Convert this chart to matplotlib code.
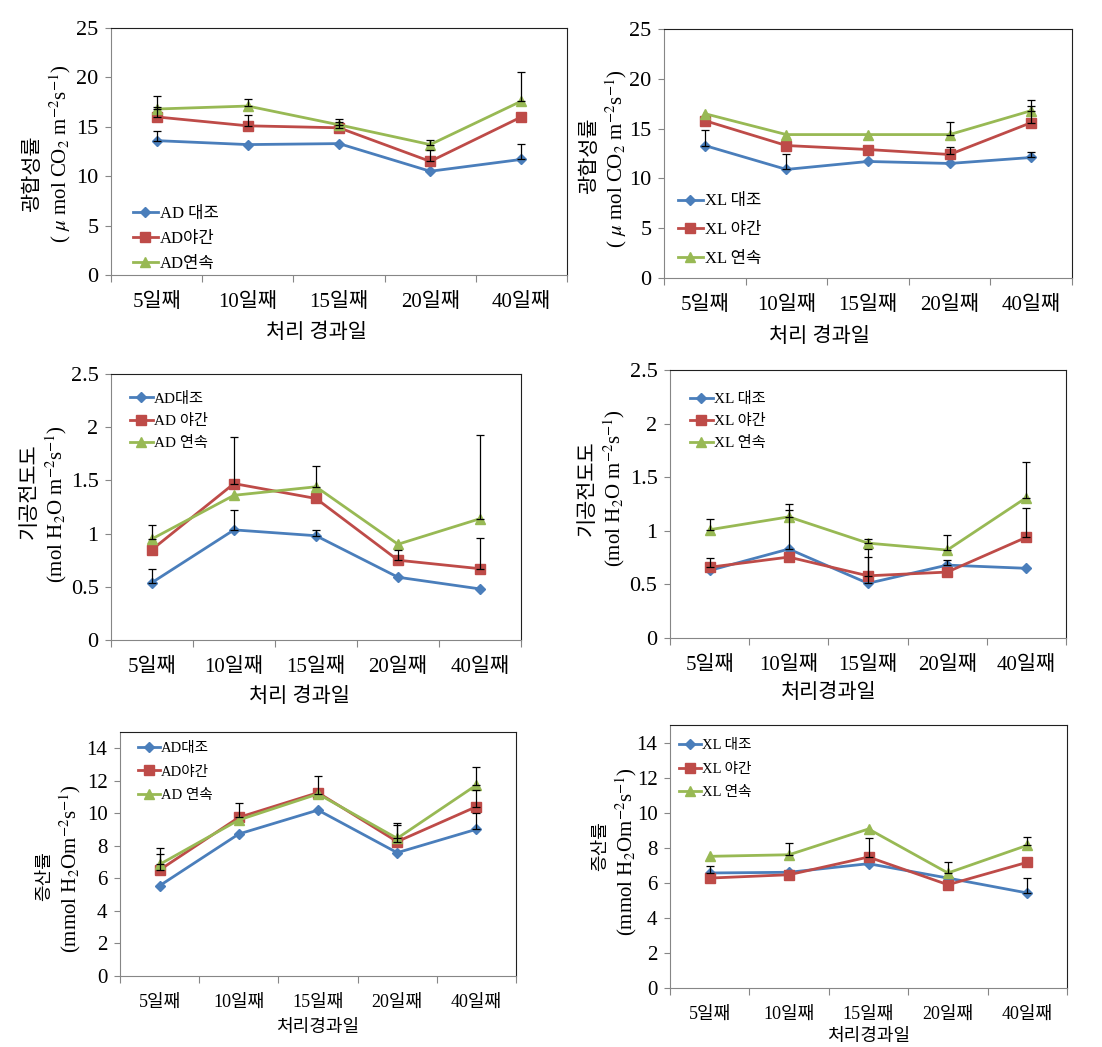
import numpy as np
import matplotlib
matplotlib.use("Agg")
import matplotlib.pyplot as plt

plt.rcParams['font.family'] = ['Liberation Serif', 'Noto Sans CJK KR']
plt.rcParams['mathtext.fontset'] = 'stix'

days = ['5일째', '10일째', '15일째', '20일째', '40일째']

# 광합성률 AD
ad_pn_ctrl = [13.6, 13.2, 13.3, 10.5, 11.7]
ad_pn_night = [16.0, 15.1, 14.9, 11.5, 16.0]
ad_pn_cont = [16.8, 17.1, 15.2, 13.2, 17.6]
ad_pn_ctrl_err = [1.0, 0, 0, 0, 1.6]
ad_pn_night_err = [1.0, 1.1, 0.6, 1.2, 0]
ad_pn_cont_err = [1.3, 0.7, 0.6, 0.5, 2.9]

# 광합성률 XL
xl_pn_ctrl = [13.3, 10.9, 11.7, 11.5, 12.1]
xl_pn_night = [15.8, 13.3, 12.9, 12.4, 15.6]
xl_pn_cont = [16.5, 14.4, 14.4, 14.4, 16.8]
xl_pn_ctrl_err = [1.6, 1.5, 0, 0, 0.6]
xl_pn_night_err = [0, 0, 0, 0.8, 1.7]
xl_pn_cont_err = [0, 0, 0, 1.3, 1.1]

# 기공전도도 AD
ad_gs_ctrl = [0.54, 1.035, 0.98, 0.59, 0.48]
ad_gs_night = [0.85, 1.47, 1.33, 0.75, 0.67]
ad_gs_cont = [0.95, 1.36, 1.44, 0.90, 1.14]
ad_gs_ctrl_err = [0.125, 0.185, 0.05, 0, 0]
ad_gs_night_err = [0, 0.44, 0, 0.10, 0.29]
ad_gs_cont_err = [0.13, 0, 0.20, 0, 0.79]

# 기공전도도 XL
xl_gs_ctrl = [0.63, 0.83, 0.51, 0.68, 0.65]
xl_gs_night = [0.66, 0.755, 0.58, 0.615, 0.94]
xl_gs_cont = [1.01, 1.13, 0.885, 0.82, 1.31]
xl_gs_ctrl_err = [0, 0.36, 0.25, 0.05, 0]
xl_gs_night_err = [0.085, 0, 0.25, 0, 0.27]
xl_gs_cont_err = [0.10, 0.12, 0.04, 0.14, 0.33]

# 증산률 AD
ad_e_ctrl = [5.55, 8.73, 10.2, 7.58, 9.02]
ad_e_night = [6.52, 9.75, 11.27, 8.26, 10.41]
ad_e_cont = [6.86, 9.59, 11.19, 8.46, 11.74]
ad_e_ctrl_err = [0, 0, 0, 0, 1.0]
ad_e_night_err = [1.0, 0.9, 0, 1.04, 1.0]
ad_e_cont_err = [1.0, 0, 1.1, 0.97, 1.13]

# 증산률 XL
xl_e_ctrl = [6.56, 6.6, 7.09, 6.27, 5.42]
xl_e_night = [6.27, 6.46, 7.47, 5.89, 7.17]
xl_e_cont = [7.51, 7.6, 9.07, 6.56, 8.14]
xl_e_ctrl_err = [0.38, 0, 0, 0, 0.85]
xl_e_night_err = [0, 0, 1.08, 0, 0]
xl_e_cont_err = [0, 0.67, 0, 0.61, 0.47]

blue = '#4A7EBB'
red = '#BE4B48'
green = '#98B954'


def draw(rect, series, labels, errs, ylim, yticks, ytl, ylab_kr, ylab_unit,
         ylab_pos, xlab, xlab_pos, leg_pos, leg_space, fs_tick, fs_x, fs_leg):
    ax = fig.add_axes([rect[0] / W, 1 - rect[3] / H, (rect[1] - rect[0]) / W,
                       (rect[3] - rect[2]) / H])
    x = np.arange(5) + 0.5
    styles = [(blue, 'D', 5), (red, 's', 7), (green, '^', 7)]
    for ys, lab, er, (c, m, ms) in zip(series, labels, errs, styles):
        ax.plot(x, ys, color=c, marker=m, markersize=ms, lw=2, label=lab,
                zorder=3)
        ys = np.array(ys)
        er = np.array(er)
        k = er > 0
        ax.errorbar(x[k], ys[k], yerr=[np.zeros(k.sum()), er[k]], fmt='none',
                    ecolor='black', elinewidth=0.9, capsize=3, capthick=0.9,
                    zorder=4)
    ax.set_xlim(0, 5)
    ax.set_ylim(*ylim)
    ax.set_yticks(yticks)
    ax.set_yticklabels(ytl, fontsize=fs_tick)
    ax.set_xticks(np.arange(6))
    ax.set_xticklabels([])
    ax.set_xticks(x, minor=True)
    ax.set_xticklabels(days, minor=True, fontsize=fs_x)
    ax.tick_params(axis='x', which='major', length=5, color='#868686',
                   direction='out')
    ax.tick_params(axis='x', which='minor', length=0, pad=13)
    ax.tick_params(axis='y', length=4, color='#868686', pad=5)
    for s in ['left', 'bottom']:
        ax.spines[s].set_color('#868686')
    for s in ['top', 'right']:
        ax.spines[s].set_color('#202020')
    ax.text(ylab_pos[0], ylab_pos[1], ylab_kr, rotation=90, fontsize=fs_x,
            transform=ax.transAxes, ha='center', va='center')
    ax.text(ylab_pos[2], ylab_pos[3], ylab_unit, rotation=90,
            fontsize=15, transform=ax.transAxes, ha='center', va='center')
    ax.text(xlab_pos[0], xlab_pos[1], xlab, fontsize=fs_x,
            transform=ax.transAxes, ha='center', va='center')
    ax.legend(loc='upper left', bbox_to_anchor=leg_pos, frameon=False,
              fontsize=fs_leg, handlelength=1.5, handletextpad=0.1,
              borderpad=0, borderaxespad=0, labelspacing=leg_space)
    return ax


W, H = 1102, 1047
fig = plt.figure(figsize=(W / 100, H / 100), dpi=100)

pn_unit = r'( $\mu$ mol CO$_2$ m$^{-2}$s$^{-1}$)'
gs_unit = r'(mol H$_2$O m$^{-2}$s$^{-1}$)'
e_unit = r'(mmol H$_2$Om$^{-2}$s$^{-1}$)'

draw((111, 567, 28, 275), [ad_pn_ctrl, ad_pn_night, ad_pn_cont],
     ['AD 대조', 'AD야간', 'AD연속'],
     [ad_pn_ctrl_err, ad_pn_night_err, ad_pn_cont_err],
     (0, 25), [0, 5, 10, 15, 20, 25], ['0', '5', '10', '15', '20', '25'],
     '광합성률', pn_unit, (-0.171, 0.41, -0.112, 0.49),
     '처리 경과일', (0.45, -0.235), (0.048, 0.28), 0.53, 16, 15, 12)

draw((664, 1072, 29, 278), [xl_pn_ctrl, xl_pn_night, xl_pn_cont],
     ['XL 대조', 'XL 야간', 'XL 연속'],
     [xl_pn_ctrl_err, xl_pn_night_err, xl_pn_cont_err],
     (0, 25), [0, 5, 10, 15, 20, 25], ['0', '5', '10', '15', '20', '25'],
     '광합성률', pn_unit, (-0.18, 0.49, -0.118, 0.48),
     '처리 경과일', (0.38, -0.24), (0.034, 0.34), 0.77, 16, 15, 12)

draw((111, 521, 374, 640), [ad_gs_ctrl, ad_gs_night, ad_gs_cont],
     ['AD대조', 'AD 야간', 'AD 연속'],
     [ad_gs_ctrl_err, ad_gs_night_err, ad_gs_cont_err],
     (0, 2.5), [0, 0.5, 1, 1.5, 2, 2.5], ['0', '0.5', '1', '1.5', '2', '2.5'],
     '기공전도도', gs_unit, (-0.198, 0.56, -0.134, 0.51),
     '처리 경과일', (0.46, -0.214), (0.046, 0.933), 0.53, 16, 15, 11)

draw((670, 1066, 370, 638), [xl_gs_ctrl, xl_gs_night, xl_gs_cont],
     ['XL 대조', 'XL 야간', 'XL 연속'],
     [xl_gs_ctrl_err, xl_gs_night_err, xl_gs_cont_err],
     (0, 2.5), [0, 0.5, 1, 1.5, 2, 2.5], ['0', '0.5', '1', '1.5', '2', '2.5'],
     '기공전도도', gs_unit, (-0.207, 0.56, -0.141, 0.56),
     '처리경과일', (0.40, -0.205), (0.05, 0.918), 0.53, 16, 15, 11)

draw((120, 516, 732, 976), [ad_e_ctrl, ad_e_night, ad_e_cont],
     ['AD대조', 'AD야간', 'AD 연속'],
     [ad_e_ctrl_err, ad_e_night_err, ad_e_cont_err],
     (0, 15), [0, 2, 4, 6, 8, 10, 12, 14],
     ['0', '2', '4', '6', '8', '10', '12', '14'],
     '증산률', e_unit, (-0.19, 0.41, -0.125, 0.44),
     '처리경과일', (0.5, -0.213), (0.045, 0.96), 0.71, 15, 13, 10.5)

draw((670, 1067, 725, 988), [xl_e_ctrl, xl_e_night, xl_e_cont],
     ['XL 대조', 'XL 야간', 'XL 연속'],
     [xl_e_ctrl_err, xl_e_night_err, xl_e_cont_err],
     (0, 15), [0, 2, 4, 6, 8, 10, 12, 14],
     ['0', '2', '4', '6', '8', '10', '12', '14'],
     '증산률', e_unit, (-0.176, 0.54, -0.111, 0.52),
     '처리경과일', (0.5, -0.186), (0.023, 0.947), 0.71, 15, 13, 10.5)

fig.savefig('out.png', dpi=100)
